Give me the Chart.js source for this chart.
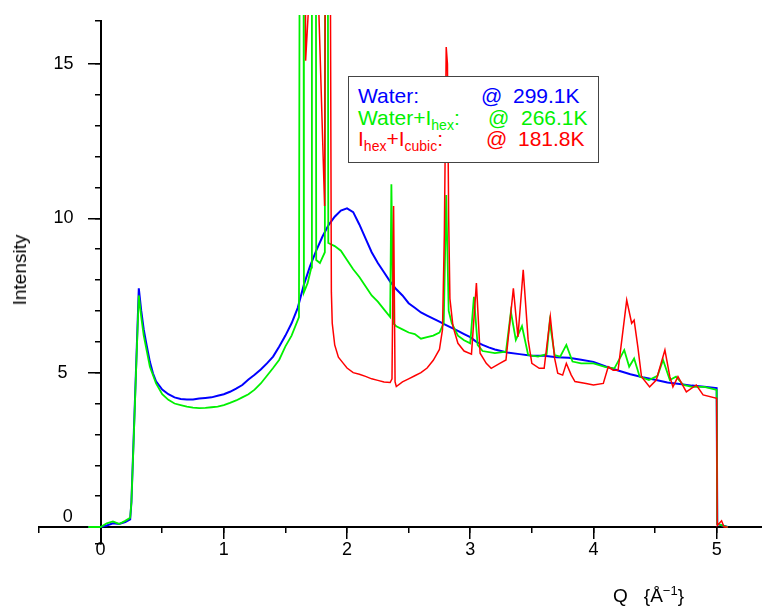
<!DOCTYPE html>
<html>
<head>
<meta charset="utf-8">
<script src="https://cdn.jsdelivr.net/npm/chart.js@4.4.1/dist/chart.umd.min.js"></script>
<style>
  body { margin: 0; background: #fff; }
  #wrap { position: relative; width: 762px; height: 606px; font-family: 'Liberation Sans', Arial, sans-serif; }
  #c { position: absolute; left: 0; top: 0; }
  .t { position: absolute; white-space: nowrap; line-height: 21px; font-size: 21px; }
  .t sub { font-size: 14px; vertical-align: -5px; line-height: 0; }
  #box { position: absolute; left: 348px; top: 76px; width: 249px; height: 85px; border: 1px solid #444; background: #fff; }
  .blue { color: #0000ff; } .green { color: #00f000; } .red { color: #ff0000; }
  #ytitle { position: absolute; left: 20px; top: 270px; font-size: 19px; transform: translate(-50%, -50%) rotate(-90deg); white-space: nowrap; }
  #xtitle { position: absolute; left: 613px; top: 586px; font-size: 19px; line-height: 19px; white-space: nowrap; }
  #xtitle sup { font-size: 13px; vertical-align: 7px; line-height: 0; }
</style>
</head>
<body>
<div id="wrap">
  <canvas id="c" width="762" height="606"></canvas>
  <div id="box"></div>
  <span class="t blue" style="left:358px;top:85px">Water:</span>
  <span class="t blue" style="left:481px;top:85px">@</span>
  <span class="t blue" style="left:513px;top:85px">299.1K</span>
  <span class="t green" style="left:358px;top:107px">Water+I<sub>hex</sub>:</span>
  <span class="t green" style="left:488px;top:107px">@</span>
  <span class="t green" style="left:521px;top:107px">266.1K</span>
  <span class="t red" style="left:358px;top:128px">I<sub>hex</sub>+I<sub>cubic</sub>:</span>
  <span class="t red" style="left:486px;top:128px">@</span>
  <span class="t red" style="left:518px;top:128px">181.8K</span>
  <div id="ytitle">Intensity</div>
  <div id="xtitle">Q<span style="margin-left:16px">{Å<sup>−1</sup>}</span></div>
</div>
<script>
// Water @ 299.1K
const qWater = [-0.1, 0, 0.05, 0.1, 0.15, 0.2, 0.24, 0.25, 0.27, 0.29,
  0.31, 0.33, 0.35, 0.37, 0.4, 0.425, 0.45, 0.5, 0.55, 0.6,
  0.65, 0.7, 0.75, 0.8, 0.85, 0.9, 0.95, 1.0, 1.05, 1.1,
  1.15, 1.2, 1.25, 1.3, 1.35, 1.4, 1.45, 1.5, 1.55, 1.6,
  1.65, 1.7, 1.75, 1.8, 1.85, 1.9, 1.95, 2.0, 2.05, 2.1,
  2.15, 2.2, 2.25, 2.3, 2.35, 2.4, 2.45, 2.5, 2.55, 2.6,
  2.65, 2.7, 2.75, 2.8, 2.85, 2.9, 2.95, 3.0, 3.05, 3.1,
  3.15, 3.2, 3.3, 3.4, 3.5, 3.6, 3.7, 3.8, 3.9, 4.0,
  4.1, 4.2, 4.3, 4.4, 4.5, 4.6, 4.7, 4.8, 4.9, 5.0,
  5.005, 5.09];
const iWater = [0, 0, 0.05, 0.12, 0.1, 0.16, 0.25, 0.8, 3.1, 5.4,
  7.73, 7.0, 6.4, 5.96, 5.35, 4.98, 4.72, 4.45, 4.3, 4.2,
  4.15, 4.13, 4.13, 4.16, 4.18, 4.2, 4.25, 4.3, 4.38, 4.48,
  4.6, 4.78, 4.93, 5.1, 5.3, 5.52, 5.85, 6.2, 6.6, 7.1,
  7.85, 8.45, 8.95, 9.4, 9.78, 10.05, 10.25, 10.32, 10.2, 9.8,
  9.35, 8.9, 8.55, 8.25, 7.95, 7.7, 7.5, 7.25, 7.1, 6.95,
  6.85, 6.75, 6.65, 6.55, 6.45, 6.35, 6.25, 6.15, 6.0, 5.9,
  5.82, 5.75, 5.65, 5.6, 5.55, 5.55, 5.5, 5.48, 5.42, 5.35,
  5.2, 5.07, 4.95, 4.85, 4.77, 4.68, 4.63, 4.58, 4.54, 4.5,
  0.1, 0];

// Water + Ihex @ 266.1K
const qMix = [-0.1, 0, 0.05, 0.1, 0.15, 0.2, 0.24, 0.25, 0.27, 0.29,
  0.31, 0.33, 0.35, 0.4, 0.45, 0.5, 0.55, 0.6, 0.65, 0.7,
  0.75, 0.8, 0.85, 0.9, 0.95, 1.0, 1.05, 1.1, 1.15, 1.2,
  1.25, 1.3, 1.35, 1.4, 1.45, 1.5, 1.55, 1.61, 1.62, 1.645,
  1.65, 1.68, 1.71, 1.715, 1.745, 1.75, 1.78, 1.82, 1.824, 1.84,
  1.848, 1.9, 1.95, 2.0, 2.05, 2.1, 2.15, 2.2, 2.25, 2.3,
  2.35, 2.36, 2.375, 2.4, 2.45, 2.5, 2.55, 2.6, 2.65, 2.7,
  2.75, 2.785, 2.805, 2.825, 2.85, 2.9, 2.95, 3.0, 3.03, 3.06,
  3.1, 3.2, 3.29, 3.33, 3.37, 3.42, 3.47, 3.55, 3.62, 3.645,
  3.685, 3.73, 3.78, 3.83, 3.9, 4.0, 4.1, 4.17, 4.25, 4.29,
  4.33, 4.375, 4.45, 4.52, 4.565, 4.62, 4.67, 4.73, 4.8, 4.9,
  5.0, 5.005, 5.09];
const iMix = [0, 0, 0.12, 0.18, 0.1, 0.2, 0.3, 0.8, 3.0, 5.3,
  7.5, 6.8, 6.2, 5.19, 4.65, 4.3, 4.12, 4.0, 3.95, 3.9,
  3.87, 3.85, 3.86, 3.88, 3.9, 3.95, 4.02, 4.1, 4.2, 4.3,
  4.45, 4.65, 4.9, 5.15, 5.42, 5.85, 6.2, 6.8, 30, 30,
  7.6, 7.9, 8.4, 30, 30, 8.65, 8.55, 8.9, 30, 30,
  9.2, 9.1, 8.95, 8.65, 8.35, 8.1, 7.8, 7.5, 7.3, 7.05,
  6.8, 11.1, 6.6, 6.5, 6.4, 6.3, 6.25, 6.1, 6.15, 6.2,
  6.3, 6.6, 10.75, 7.0, 6.6, 6.2, 6.05, 5.95, 7.46, 5.9,
  5.7, 5.63, 5.68, 6.97, 6.06, 6.51, 5.57, 5.52, 5.6, 6.65,
  5.57, 5.52, 5.9, 5.36, 5.3, 5.3, 5.18, 5.14, 5.73, 5.19,
  5.46, 4.87, 4.76, 4.9, 5.41, 4.76, 4.87, 4.6, 4.54, 4.54,
  4.44, 0.1, 0];

// Ihex + Icubic @ 181.8K
const qIce = [1.64, 1.655, 1.664, 1.69, 1.70, 1.765, 1.772, 1.795, 1.818, 1.832,
  1.855, 1.873, 1.88, 1.9, 1.93, 1.97, 2.0, 2.05, 2.1, 2.15,
  2.2, 2.25, 2.3, 2.35, 2.365, 2.378, 2.39, 2.4, 2.45, 2.5,
  2.55, 2.6, 2.65, 2.7, 2.75, 2.775, 2.79, 2.805, 2.815, 2.825,
  2.835, 2.86, 2.9, 2.95, 3.01, 3.05, 3.08, 3.13, 3.17, 3.24,
  3.29, 3.35, 3.387, 3.43, 3.47, 3.5, 3.56, 3.6, 3.65, 3.685,
  3.71, 3.75, 3.78, 3.82, 3.85, 3.94, 4.0, 4.08, 4.12, 4.16,
  4.2, 4.27, 4.31, 4.33, 4.36, 4.39, 4.456, 4.51, 4.58, 4.62,
  4.645, 4.686, 4.754, 4.835, 4.89, 5.0, 5.005, 5.04, 5.06, 5.09];
const iIce = [30, 30, 15.1, 17, 30, 30, 16.6, 13.5, 10.4, 30,
  30, 7.6, 6.6, 5.9, 5.5, 5.3, 5.15, 5.0, 4.95, 4.88,
  4.8, 4.75, 4.7, 4.68, 4.8, 10.4, 4.7, 4.55, 4.7, 4.8,
  4.9, 5.0, 5.15, 5.4, 5.75, 6.4, 9.5, 15.55, 15.0, 10.0,
  7.4, 6.5, 5.95, 5.7, 5.6, 7.9, 5.63, 5.3, 5.14, 5.3,
  5.41, 7.73, 6.16, 8.33, 6.06, 5.3, 5.14, 5.14, 6.81, 5.46,
  4.98, 4.92, 5.3, 4.92, 4.71, 4.65, 4.6, 4.65, 5.19, 5.08,
  5.08, 7.35, 6.6, 6.7, 5.84, 4.87, 4.54, 4.76, 5.73, 4.87,
  4.54, 4.87, 4.38, 4.6, 4.28, 4.17, 0.05, 0.2, 0, 0];

const xMajorTicks = [0, 1, 2, 3, 4, 5];
const xMinorTicks = [-0.5, 0, 0.5, 1, 1.5, 2, 2.5, 3, 3.5, 4, 4.5, 5];
const yMajorTicks = [5, 10, 15];
const yMinorTicks = [-0.55, 0, 1, 2, 3, 4, 5, 6, 7, 8, 9, 10, 11, 12, 13, 14, 15, 16.39];
const yLabels = [0, 5, 10, 15];

const X_MIN = -0.5, X_MAX = 5.368;
const Y_MIN = -0.55, Y_MAX = 16.39;

const pts = (q, v) => q.map((x, k) => ({ x, y: v[k] }));
const font = { family: "'Liberation Sans', Arial, sans-serif", size: 18 };
// traces run a little past the top end of the y axis, as in the original
const traceClip = { left: 5, top: 6, right: 5, bottom: 5 };

// axes cross at the origin, so they take no room in the layout
const noRoom = s => {
  if (s.isHorizontal()) s.height = 0; else s.width = 0;
  s.paddingTop = s.paddingBottom = s.paddingLeft = s.paddingRight = 0;
};
const useTicks = list => s => { s.ticks = list.map(v => ({ value: v })); };

function tickAxis(list, pos, min, max, len, ticks, border) {
  return {
    type: 'linear', position: pos, min: min, max: max,
    afterFit: noRoom,
    afterBuildTicks: useTicks(list),
    ticks: Object.assign({ autoSkip: false, maxRotation: 0, font: font, color: '#000' }, ticks),
    grid: { drawOnChartArea: false, tickLength: len, lineWidth: 1.5, color: '#000' },
    border: { display: border, width: 2, color: '#000' }
  };
}

// y tick labels sit left of the axis, right edge at the given Q
function labelAxis(list, atQ, offset) {
  return {
    type: 'linear', position: { x: atQ }, min: Y_MIN, max: Y_MAX,
    afterFit: noRoom,
    afterBuildTicks: useTicks(list),
    ticks: { autoSkip: false, font: font, color: '#000', labelOffset: offset, callback: v => String(v) },
    grid: { drawOnChartArea: false, drawTicks: false },
    border: { display: false }
  };
}

new Chart(document.getElementById('c'), {
  type: 'line',
  data: {
    datasets: [
      { label: 'Ihex+Icubic', data: pts(qIce, iIce), borderColor: '#ff0000', borderWidth: 1.5, clip: traceClip, order: 0 },
      { label: 'Water+Ihex', data: pts(qMix, iMix), borderColor: '#00f000', borderWidth: 1.8, clip: traceClip, order: 1 },
      { label: 'Water', data: pts(qWater, iWater), borderColor: '#0000ff', borderWidth: 2, clip: traceClip, order: 2 }
    ]
  },
  options: {
    responsive: false,
    devicePixelRatio: 1,
    animation: false,
    layout: { autoPadding: false, padding: { left: 39, right: 0, top: 21, bottom: 62 } },
    elements: { line: { tension: 0 }, point: { radius: 0 } },
    plugins: { legend: { display: false }, tooltip: { enabled: false } },
    scales: {
      x: tickAxis(xMajorTicks, { y: 0 }, X_MIN, X_MAX, 11, { padding: 1, callback: v => String(v) }, true),
      x2: tickAxis(xMinorTicks, { y: 0 }, X_MIN, X_MAX, 6, { display: false }, false),
      y: tickAxis(yMajorTicks, { x: 0 }, Y_MIN, Y_MAX, 12, { display: false }, true),
      y2: tickAxis(yMinorTicks, { x: 0 }, Y_MIN, Y_MAX, 6, { display: false }, false),
      yLab: labelAxis(yLabels.filter(v => v >= 10), -0.219, 0),
      yLab5: labelAxis(yLabels.filter(v => v === 5), -0.268, 0),
      yLab0: labelAxis(yLabels.filter(v => v === 0), -0.227, -10)
    }
  }
});
</script>
</body>
</html>
